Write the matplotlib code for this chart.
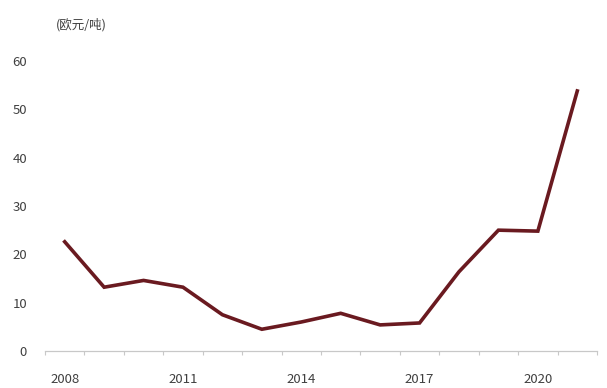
import numpy as np
import matplotlib.pyplot as plt

plt.rcParams['font.family'] = ['Noto Sans CJK SC', 'DejaVu Sans']

years = [2008, 2009, 2010, 2011, 2012, 2013, 2014, 2015, 2016, 2017, 2018, 2019, 2020, 2021]
price = [22.6, 13.2, 14.6, 13.2, 7.5, 4.5, 6.0, 7.8, 5.4, 5.8, 16.4, 25.0, 24.8, 53.8]
tick_years = [2008, 2011, 2014, 2017, 2020]
unit_label = '(欧元/吨)'

fig = plt.figure(figsize=(6.07, 3.88), dpi=100)
ax = fig.add_axes([45 / 607, 37 / 388, 552 / 607, 290 / 388])

ax.plot(years, price, color='#6a1a20', linewidth=2.6, solid_joinstyle='miter')

ax.set_xlim(years[0] - 0.5, years[-1] + 0.5)
ax.set_ylim(0, 60)
ax.set_yticks(np.arange(0, 61, 10))

# category-style axis: tick marks sit between years, labels every third year
ax.set_xticks(np.arange(years[0] - 0.5, years[-1] + 1, 1), minor=True)
ax.set_xticks(tick_years)
ax.tick_params(axis='x', which='major', length=0, pad=16, labelsize=9.5, labelcolor='#404040')
ax.tick_params(axis='x', which='minor', length=3, color='#c8c8c8', width=0.8)
ax.tick_params(axis='y', length=0, pad=13, labelsize=9.5, labelcolor='#404040')

for side in ['top', 'right', 'left']:
    ax.spines[side].set_visible(False)
ax.spines['bottom'].set_color('#c8c8c8')
ax.spines['bottom'].set_linewidth(0.9)

fig.text(56 / 607, 1 - 25 / 388, unit_label, fontsize=9, color='#404040', va='center', ha='left')

fig.savefig('out.png', dpi=100)
